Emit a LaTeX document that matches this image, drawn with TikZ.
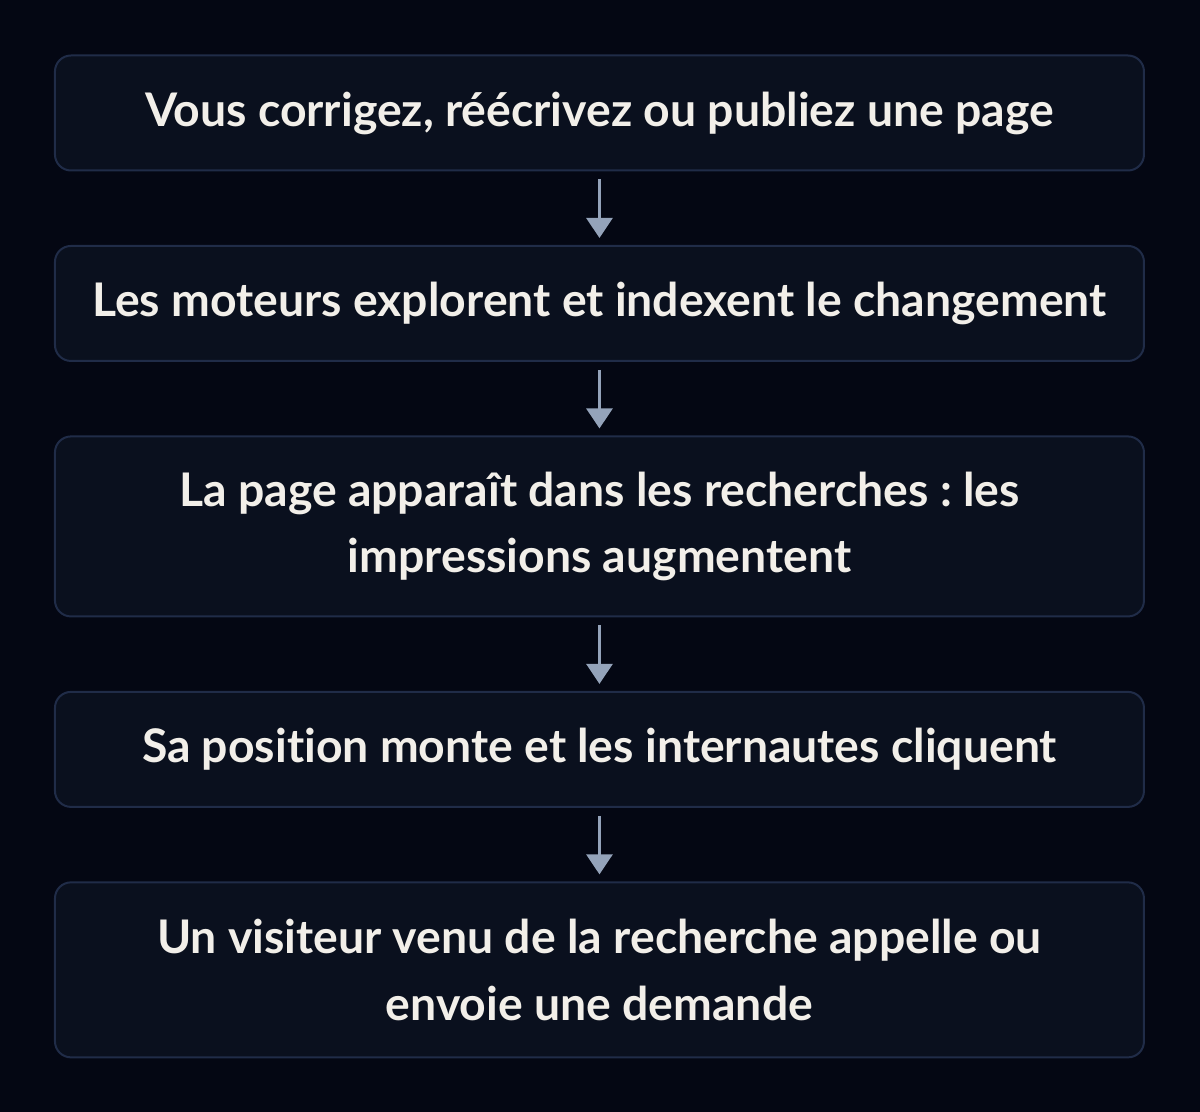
\documentclass[tikz,border=0pt]{standalone}
\usepackage{fontspec}
\setmainfont{Lato}[Ligatures={NoCommon,NoRare}]
\usepackage{xcolor}
\usepackage{tikz}
\usetikzlibrary{arrows.meta,positioning}
\definecolor{canvas}{RGB}{4,7,19}
\definecolor{cardfill}{RGB}{10,16,30}
\definecolor{cardline}{RGB}{32,44,72}
\definecolor{cardtext}{RGB}{242,239,233}
\definecolor{flow}{RGB}{148,163,186}
\frenchspacing

\begin{document}
\begin{tikzpicture}[
    node distance=55.1pt,
    stepbox/.style={rectangle, draw=cardline, line width=1.5pt, fill=cardfill, rounded corners=12pt, minimum width=816.75pt, minimum height=86.25pt, align=center, text=cardtext, font=\bfseries\fontsize{34.75}{50}\selectfont},
    flowarrow/.style={-{Triangle[width=19.5pt,length=15pt]}, flow, line width=2.2pt, shorten <=6pt, shorten >=5.25pt}
]
    % Background and frame
    \fill[canvas] (0,0) rectangle (900pt,-834pt);
    \useasboundingbox (0,0) rectangle (900pt,-834pt);

    % Steps
    \node[stepbox] (publish) at (449.6pt,-84.75pt) {Vous corrigez, réécrivez ou publiez une page};
    \node[stepbox, below=of publish] (crawl) {Les moteurs explorent et indexent le changement};
    \node[stepbox, below=of crawl, minimum height=135pt] (impress) {La page apparaît dans les recherches : les\\impressions augmentent};
    \node[stepbox, below=of impress] (clicks) {Sa position monte et les internautes cliquent};
    \node[stepbox, below=of clicks, minimum height=131.25pt] (lead) {Un visiteur venu de la recherche appelle ou\\envoie une demande};

    % Arrows between steps
    \draw[flowarrow] (publish) -- (crawl);
    \draw[flowarrow] (crawl) -- (impress);
    \draw[flowarrow] (impress) -- (clicks);
    \draw[flowarrow] (clicks) -- (lead);
\end{tikzpicture}
\end{document}
